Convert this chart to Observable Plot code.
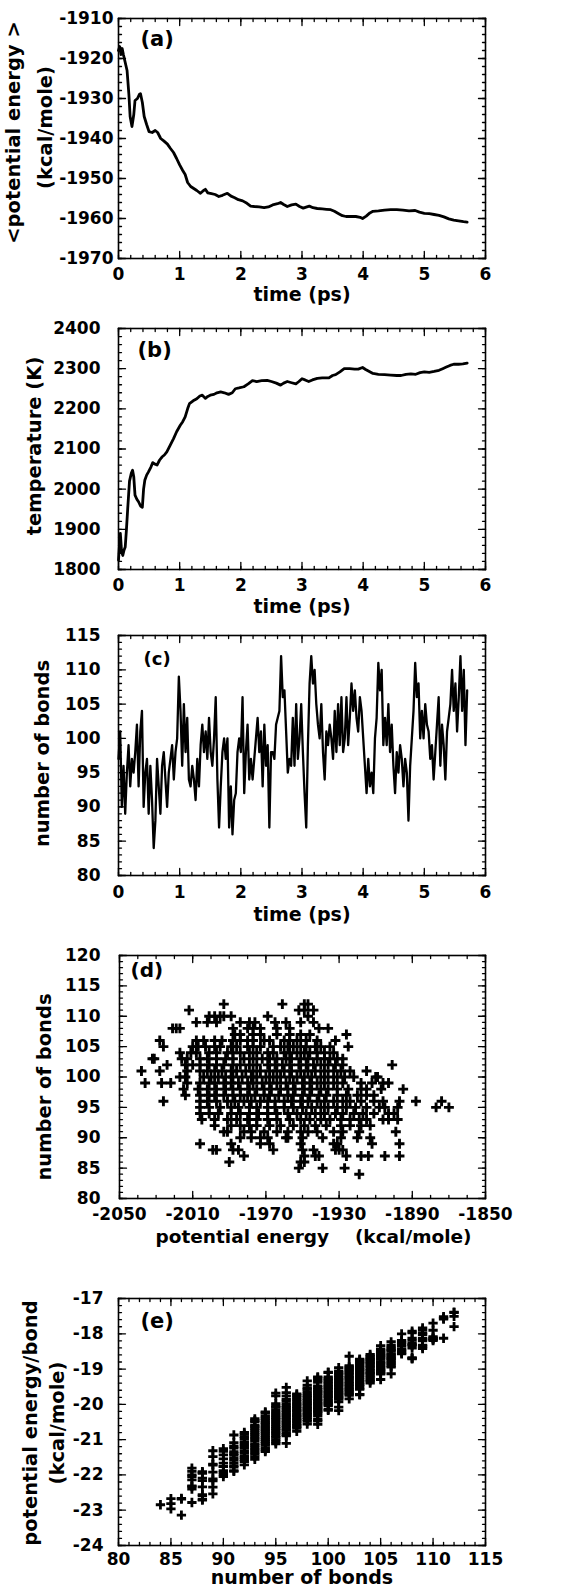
<!DOCTYPE html>
<html><head><meta charset="utf-8">
<script src="https://cdn.jsdelivr.net/npm/d3@7"></script>
<script src="https://cdn.jsdelivr.net/npm/@observablehq/plot@0.6"></script>
<style>
html,body{margin:0;padding:0;background:#fff;}
#fig{width:566px;}
#fig svg{display:block;}
</style></head><body><div id="fig"></div>
<script>
// ---------- tick labels ----------
const timeTicks = [0, 1, 2, 3, 4, 5, 6];
const avgEnergyTicks = [-1970, -1960, -1950, -1940, -1930, -1920, -1910];
const temperatureTicks = [1800, 1900, 2000, 2100, 2200, 2300, 2400];
const bondTicksC = [80, 85, 90, 95, 100, 105, 110, 115];
const bondTicksD = [80, 85, 90, 95, 100, 105, 110, 115, 120];
const energyTicksD = [-2050, -2010, -1970, -1930, -1890, -1850];
const bondTicksE = [80, 85, 90, 95, 100, 105, 110, 115];
const perBondTicks = [-24, -23, -22, -21, -20, -19, -18, -17];

// ---------- (a) running average of potential energy ----------
const avgTime = [0.00,0.02,0.04,0.06,0.08,0.11,0.14,0.17,0.19,0.22,0.25,0.27,0.31,0.34,0.36,0.39,0.42,0.46,0.50,0.55,0.60,0.64,0.69,0.74,0.80,0.85,0.90,0.95,1.00,1.05,1.09,1.13,1.18,1.23,1.28,1.34,1.39,1.42,1.46,1.52,1.58,1.64,1.70,1.78,1.84,1.90,1.96,2.03,2.10,2.16,2.22,2.30,2.38,2.45,2.52,2.60,2.65,2.70,2.76,2.83,2.90,2.96,3.02,3.08,3.12,3.18,3.25,3.33,3.40,3.47,3.53,3.60,3.66,3.72,3.80,3.88,3.95,3.99,4.05,4.11,4.16,4.25,4.35,4.45,4.55,4.65,4.75,4.85,4.92,5.00,5.08,5.16,5.24,5.32,5.40,5.48,5.56,5.64,5.70];
const avgEnergy = [-1918,-1917,-1919,-1917.5,-1919,-1921,-1923,-1929,-1934.5,-1937,-1934,-1930.5,-1930,-1929,-1928.8,-1931,-1934.5,-1936.5,-1938.3,-1938.5,-1938,-1938.5,-1940,-1940.6,-1941.4,-1942.5,-1943.5,-1945,-1946.6,-1948,-1949,-1951,-1952,-1952.5,-1953,-1953.7,-1953,-1952.7,-1953.6,-1953.8,-1954,-1954.5,-1954.2,-1953.7,-1954.4,-1954.8,-1955.3,-1955.6,-1956.2,-1956.9,-1957,-1957.1,-1957.3,-1957.1,-1956.6,-1956.3,-1956,-1956.5,-1957,-1956.6,-1956.4,-1957,-1957.4,-1957.1,-1956.9,-1957.3,-1957.5,-1957.6,-1957.7,-1957.8,-1958.2,-1958.8,-1959.3,-1959.5,-1959.5,-1959.5,-1959.7,-1960,-1959.4,-1958.6,-1958.2,-1958.1,-1957.9,-1957.8,-1957.8,-1957.9,-1958.1,-1958,-1958.4,-1958.7,-1958.8,-1959,-1959.2,-1959.6,-1960.1,-1960.4,-1960.6,-1960.8,-1960.9];

// ---------- (b) temperature ----------
const tempTime = [0.00,0.02,0.03,0.05,0.07,0.09,0.11,0.13,0.15,0.18,0.21,0.23,0.25,0.27,0.30,0.33,0.36,0.39,0.41,0.43,0.46,0.49,0.53,0.56,0.60,0.63,0.67,0.71,0.75,0.79,0.84,0.90,0.95,1.01,1.05,1.09,1.13,1.16,1.22,1.28,1.33,1.37,1.42,1.46,1.50,1.56,1.61,1.67,1.73,1.80,1.86,1.91,1.97,2.05,2.12,2.19,2.26,2.34,2.43,2.50,2.58,2.65,2.70,2.76,2.83,2.90,2.95,3.00,3.05,3.11,3.17,3.25,3.33,3.44,3.50,3.55,3.62,3.69,3.78,3.86,3.92,3.99,4.04,4.10,4.16,4.25,4.35,4.45,4.55,4.62,4.70,4.78,4.86,4.93,5.00,5.08,5.16,5.24,5.30,5.36,5.42,5.48,5.56,5.63,5.70];
const temperature = [1823,1870,1890,1845,1835,1848,1856,1900,1950,2020,2040,2047,2030,1985,1975,1968,1958,1955,2000,2022,2035,2043,2055,2066,2062,2060,2072,2080,2085,2093,2108,2126,2143,2159,2168,2180,2200,2213,2220,2225,2232,2234,2226,2231,2234,2236,2240,2242,2240,2236,2240,2250,2252,2255,2262,2270,2268,2270,2271,2268,2264,2259,2264,2268,2265,2262,2268,2275,2272,2268,2272,2276,2277,2277,2283,2285,2292,2300,2300,2299,2299,2303,2298,2293,2288,2286,2285,2284,2283,2283,2286,2287,2286,2290,2292,2291,2293,2296,2300,2304,2308,2311,2311,2312,2314];

// ---------- (c) number of bonds, sampled evenly over 0–5.7 ps ----------
const bondsEnd = 5.7;
const bondCounts = [
97,101,90,96, 89,95,99,93, 97,95,98,102, 93,101,104,90, 95,97,89,96,
91,84,88,97, 93,89,96,98, 94,90,95,97, 99,94,98,100, 109,104,96,105,
98,103,94,93, 96,94,91,97, 93,99,102,98, 101,97,103,98, 96,100,106,94,
87,93,98,100, 97,100,87,93, 86,91,92,98, 100,98,106,92, 98,102,94,97,
94,97,100,103, 98,101,93,102, 96,99,87,98, 98,97,102,103, 104,112,106,107,
101,95,97,96, 103,96,105,97, 100,105,98,92, 87,99,108,112, 108,110,105,102,
100,105,98,94, 101,99,102,100, 97,104,98,105, 99,106,98,100, 106,99,103,108,
104,107,103,101, 106,104,100,96, 92,97,93,95, 92,100,103,111, 107,110,99,103,
99,105,98,102, 96,92,98,95, 99,97,93,97, 95,88,96,100, 104,111,106,108,
100,104,100,105, 102,101,97,99, 94,98,102,106, 96,102,99,94, 101,103,105,110,
104,108,101,106, 112,104,110,99,107
];

// ---------- (d)/(e) samples: bond count and potential energy ----------
const scatterRowBonds = [84,85,86,87,88,89,90,91,92,93,94,95,96,97,98,99,100,101,102,103,104,105,106,107,108,109,110,111,112];
const scatterRowEnergies = [
  [-1919],
  [-1952,-1939,-1927],
  [-1990,-1951,-1949],
  [-1982,-1949,-1943,-1941,-1926,-1918,-1914,-1905,-1897],
  [-1999,-1997,-1988,-1985,-1966,-1950,-1944,-1932,-1930,-1928],
  [-2006,-1989,-1973,-1968,-1951,-1933,-1931,-1912,-1897],
  [-1984,-1978,-1973,-1969,-1959,-1958,-1950,-1939,-1929,-1920,-1913],
  [-1993,-1991,-1982,-1978,-1971,-1964,-1958,-1951,-1947,-1942,-1933,-1928,-1919,-1899],
  [-1998,-1989,-1984,-1979,-1975,-1968,-1962,-1955,-1949,-1943,-1937,-1929,-1924,-1918,-1913],
  [-2005,-1998,-1991,-1986,-1980,-1975,-1969,-1964,-1957,-1951,-1946,-1940,-1935,-1929,-1924,-1919,-1915,-1906,-1903,-1898],
  [-2006,-2001,-1996,-1989,-1984,-1979,-1974,-1969,-1964,-1958,-1953,-1948,-1943,-1938,-1932,-1928,-1922,-1917,-1911,-1903,-1900],
  [-2006,-2001,-1995,-1989,-1985,-1979,-1975,-1969,-1965,-1960,-1955,-1950,-1945,-1940,-1936,-1931,-1926,-1921,-1915,-1908,-1905,-1898,-1877,-1870],
  [-2026,-2006,-2002,-1997,-1991,-1987,-1982,-1978,-1973,-1969,-1965,-1960,-1956,-1951,-1947,-1942,-1938,-1933,-1928,-1924,-1918,-1911,-1906,-1897,-1888,-1874],
  [-2014,-2006,-2001,-1998,-1993,-1988,-1984,-1980,-1976,-1971,-1968,-1963,-1958,-1955,-1950,-1946,-1941,-1937,-1931,-1926,-1920,-1915,-1911],
  [-2015,-2007,-2002,-1997,-1992,-1988,-1984,-1979,-1975,-1971,-1967,-1962,-1958,-1954,-1949,-1945,-1940,-1936,-1931,-1925,-1918,-1915,-1907,-1895],
  [-2036,-2027,-2022,-2013,-2006,-2001,-1998,-1993,-1989,-1985,-1980,-1977,-1972,-1968,-1964,-1959,-1955,-1950,-1946,-1942,-1938,-1933,-1928,-1918,-1912,-1906,-1903],
  [-2017,-2014,-2004,-2000,-1996,-1992,-1988,-1983,-1978,-1975,-1970,-1966,-1962,-1957,-1953,-1949,-1945,-1940,-1936,-1931,-1927,-1922,-1910,-1909],
  [-2038,-2028,-2013,-2006,-2002,-1998,-1994,-1989,-1986,-1981,-1977,-1973,-1968,-1964,-1960,-1956,-1951,-1947,-1943,-1938,-1933,-1929,-1924,-1915],
  [-2024,-2014,-2010,-2006,-2001,-1997,-1993,-1988,-1984,-1979,-1975,-1969,-1965,-1961,-1957,-1952,-1948,-1944,-1940,-1936,-1932,-1928,-1901],
  [-2032,-2031,-2016,-2013,-2006,-2002,-1997,-1992,-1988,-1982,-1977,-1972,-1968,-1964,-1959,-1956,-1951,-1947,-1942,-1938,-1935,-1931,-1928],
  [-2017,-2011,-2008,-2001,-1997,-1991,-1988,-1984,-1979,-1975,-1969,-1966,-1960,-1957,-1953,-1949,-1946,-1942,-1938,-1933],
  [-2026,-2010,-2007,-2003,-1998,-1995,-1989,-1986,-1980,-1977,-1973,-1966,-1962,-1958,-1955,-1951,-1948,-1943,-1940,-1935,-1925],
  [-2028,-2008,-2004,-1998,-1994,-1988,-1984,-1980,-1977,-1971,-1968,-1960,-1957,-1953,-1948,-1942,-1932],
  [-1987,-1984,-1977,-1973,-1964,-1957,-1951,-1946,-1926],
  [-2021,-2019,-2017,-1988,-1980,-1977,-1973,-1964,-1957,-1941,-1936],
  [-2008,-2002,-1997,-1984,-1979,-1976,-1965,-1959,-1951,-1944],
  [-2001,-1998,-1995,-1993,-1989,-1969,-1947],
  [-2012,-1952,-1949,-1944],
  [-1993,-1961,-1949,-1947]
];

const panelLabels = ["(a)", "(b)", "(c)", "(d)", "(e)"];

// ---------- tables ----------
const tableA = avgTime.map((t, i) => ({t, e: avgEnergy[i]}));
const tableB = tempTime.map((t, i) => ({t, T: temperature[i]}));
const tableC = bondCounts.map((n, i) => ({t: i * bondsEnd / (bondCounts.length - 1), n}));
const samples = scatterRowBonds.flatMap((b, i) => scatterRowEnergies[i].map(e => ({bonds: b, energy: e, perBond: e / b})));

// ---------- helpers ----------
const FONT = "DejaVu Sans";
const tickShape = {draw(ctx, l) { ctx.moveTo(0, 0); ctx.lineTo(0, -l); }};
function minorBetween(major, step) {
  const lo = major[0], hi = major[major.length - 1];
  const out = [];
  const n = Math.round((hi - lo) / step);
  for (let k = 0; k <= n; k++) out.push(+(lo + k * step).toFixed(6));
  return out;
}
function edgeTicks(xs, ys, len) {
  const o = {anchor: "start", shape: tickShape, length: len, stroke: "black", strokeWidth: 1.3};
  return [
    Plot.vector(xs, {...o, x: d => d, frameAnchor: "bottom", rotate: 0}),
    Plot.vector(xs, {...o, x: d => d, frameAnchor: "top", rotate: 180}),
    Plot.vector(ys, {...o, y: d => d, frameAnchor: "left", rotate: 90}),
    Plot.vector(ys, {...o, y: d => d, frameAnchor: "right", rotate: -90})
  ];
}
function panel(cfg) {
  const marks = [
    Plot.frame({stroke: "black", strokeWidth: 1.6}),
    ...edgeTicks(minorBetween(cfg.xTicks, cfg.xMinor), minorBetween(cfg.yTicks, cfg.yMinor), 3),
    ...edgeTicks(cfg.xTicks, cfg.yTicks, 7),
    ...cfg.marks,
    Plot.text([cfg.label], {text: d => d, frameAnchor: "top-left", textAnchor: "start", lineAnchor: "middle", dx: cfg.labelPos[0], dy: cfg.labelPos[1], fontSize: cfg.labelSize}),
    Plot.text([cfg.xTitle], {text: d => d, frameAnchor: "bottom", textAnchor: "middle", lineAnchor: "middle", dx: cfg.xTitlePos[0], dy: cfg.xTitlePos[1], fontSize: cfg.xTitleSize || 19}),
    ...cfg.yTitles.map(([s, dx, dy]) => Plot.text([s], {text: d => d, frameAnchor: "left", textAnchor: "middle", rotate: -90, lineAnchor: "middle", dx, dy, fontSize: 19.5}))
  ];
  return Plot.plot({
    width: 566, height: cfg.height,
    marginTop: cfg.mt, marginBottom: cfg.mb, marginLeft: cfg.ml || 118, marginRight: 81,
    style: {fontFamily: FONT, fontWeight: "bold", fontSize: "17px", color: "black", background: "white", overflow: "visible"},
    x: {domain: [cfg.xTicks[0], cfg.xTicks[cfg.xTicks.length - 1]], ticks: cfg.xTicks, tickFormat: d => String(d), tickSize: 0, tickPadding: cfg.xPad, label: null},
    y: {domain: [cfg.yTicks[0], cfg.yTicks[cfg.yTicks.length - 1]], ticks: cfg.yTicks, tickFormat: d => String(d), tickSize: 0, tickPadding: cfg.yPad, label: null},
    marks
  });
}

const fig = document.getElementById("fig");

fig.append(panel({
  height: 310, mt: 18, mb: 52, xPad: 9, yPad: 5,
  xTicks: timeTicks, xMinor: 0.2, yTicks: avgEnergyTicks, yMinor: 2,
  label: panelLabels[0], labelPos: [22, 21], labelSize: 21,
  xTitle: "time (ps)", xTitlePos: [0, 36],
  yTitles: [["<potential energy >", -105, -6], ["(kcal/mole)", -73, -11]],
  marks: [Plot.line(tableA, {x: "t", y: "e", stroke: "black", strokeWidth: 2.8, strokeLinejoin: "round"})]
}));

fig.append(panel({
  height: 310, mt: 18, mb: 51, xPad: 9, yPad: 18,
  xTicks: timeTicks, xMinor: 0.2, yTicks: temperatureTicks, yMinor: 20,
  label: panelLabels[1], labelPos: [19, 22], labelSize: 21,
  xTitle: "time (ps)", xTitlePos: [0, 37],
  yTitles: [["temperature (K)", -84, -3]],
  marks: [Plot.line(tableB, {x: "t", y: "T", stroke: "black", strokeWidth: 2.8, strokeLinejoin: "round"})]
}));

fig.append(panel({
  height: 320, mt: 15, mb: 65, xPad: 10, yPad: 18,
  xTicks: timeTicks, xMinor: 0.2, yTicks: bondTicksC, yMinor: 1,
  label: panelLabels[2], labelPos: [25, 24], labelSize: 18,
  xTitle: "time (ps)", xTitlePos: [0, 39],
  yTitles: [["number of bonds", -76, -2]],
  marks: [Plot.line(tableC, {x: "t", y: "n", stroke: "black", strokeWidth: 2.3, strokeLinejoin: "round"})]
}));

fig.append(panel({
  height: 320, mt: 15, mb: 62, ml: 119, xPad: 9, yPad: 19,
  xTicks: energyTicksD, xMinor: 10, yTicks: bondTicksD, yMinor: 1,
  label: panelLabels[3], labelPos: [11, 15], labelSize: 20,
  xTitle: "potential energy\u00a0\u00a0\u00a0\u00a0(kcal/mole)", xTitlePos: [11, 39], xTitleSize: 18.5,
  yTitles: [["number of bonds", -75, 10]],
  marks: [Plot.dot(samples, {x: "energy", y: "bonds", symbol: "plus", r: 3.3, stroke: "black", strokeWidth: 2.9, fill: "none"})]
}));

fig.append(panel({
  height: 330, mt: 38, mb: 45, xPad: 7, yPad: 15,
  xTicks: bondTicksE, xMinor: 1, yTicks: perBondTicks, yMinor: 0.2,
  label: panelLabels[4], labelPos: [22, 23], labelSize: 21,
  xTitle: "number of bonds", xTitlePos: [0, 32],
  yTitles: [["potential energy/bond", -88, 1], ["(kcal/mole)", -61, 1]],
  marks: [Plot.dot(samples, {x: "bonds", y: "perBond", symbol: "plus", r: 3.1, stroke: "black", strokeWidth: 2.8, fill: "none"})]
}));
</script></body></html>
